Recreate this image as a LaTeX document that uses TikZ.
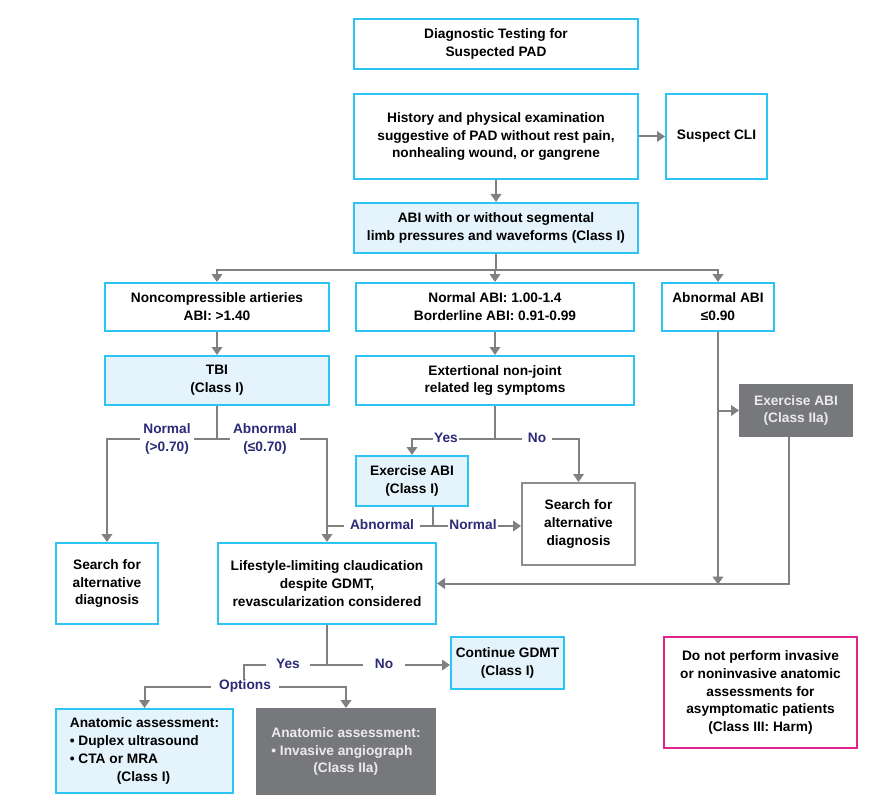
\documentclass[tikz,border=0pt]{standalone}
\usepackage{fontspec}
\setmainfont{Liberation Sans}
\usetikzlibrary{arrows.meta}
\definecolor{cyanb}{HTML}{2BC4F3}
\definecolor{lblue}{HTML}{E4F3FC}
\definecolor{dgray}{HTML}{77787B}
\definecolor{lgray}{HTML}{808080}
\definecolor{navy}{HTML}{2B2A77}
\definecolor{mag}{HTML}{E0248C}
\begin{document}
\begin{tikzpicture}[x=1pt,y=-1pt,
  txt/.style={font=\fontsize{13.7}{17.8}\selectfont\bfseries},
  box/.style={txt, draw=cyanb, line width=2pt, fill=white, align=center, inner sep=0pt, text=black},
  bluebox/.style={box, fill=lblue},
  graybox/.style={box, draw=dgray, fill=dgray, text=white!92!black},
  plainbox/.style={box, draw=lgray!90!white},
  harmbox/.style={box, draw=mag},
  sz/.style 2 args={minimum width=#1, minimum height=#2},
  conn/.style={draw=lgray, line width=2pt},
  arr/.style={conn, -{Triangle[width=10.5pt,length=8pt]}},
  lab/.style={txt, fill=white, text=navy, align=center, inner xsep=3pt, inner ysep=1pt}
]
\useasboundingbox (0,0) rectangle (872,802);

% boxes
\node[box, sz={284}{50}] (title) at (496,44) {Diagnostic Testing for\\Suspected PAD};
\node[box, sz={284}{85}] (hist) at (496,136.5) {History and physical examination\\suggestive of PAD without rest pain,\\nonhealing wound, or gangrene};
\node[box, sz={101}{85}] (cli) at (716.5,136.5) {Suspect CLI};
\node[bluebox, sz={284}{50}] (abi) at (496,228) {ABI with or without segmental\\limb pressures and waveforms (Class I)};
\node[box, sz={224}{48}] (noncomp) at (217,307) {Noncompressible artieries\\ABI: >1.40};
\node[box, sz={278}{48}] (normal) at (495,307) {Normal ABI: 1.00-1.4\\Borderline ABI: 0.91-0.99};
\node[box, sz={112}{48}] (abnabi) at (718,307) {Abnormal ABI\\≤0.90};
\node[bluebox, sz={224}{49}] (tbi) at (217,380.5) {TBI\\(Class I)};
\node[box, sz={278}{49}] (ext) at (495,380.5) {Extertional non-joint\\related leg symptoms};
\node[graybox, sz={112}{51}] (exIIa) at (796,410.5) {Exercise ABI\\(Class IIa)};
\node[bluebox, sz={112}{50}] (exI) at (412,481) {Exercise ABI\\(Class I)};
\node[plainbox, sz={113}{82}] (search2) at (578.5,524) {Search for\\alternative\\diagnosis};
\node[box, sz={102}{81}] (search1) at (107,583.5) {Search for\\alternative\\diagnosis};
\node[box, sz={218}{81}] (life) at (327,583.5) {Lifestyle-limiting claudication\\despite GDMT,\\revascularization considered};
\node[bluebox, sz={113}{52}] (cont) at (507.5,663) {Continue GDMT\\(Class I)};
\node[harmbox, sz={193}{111}] (donot) at (760.5,692.5) {Do not perform invasive\\or noninvasive anatomic\\assessments for\\asymptomatic patients\\(Class III: Harm)};
\node[bluebox, sz={177}{84}, align=left] (anat1) at (144.5,751) {Anatomic assessment:\\• Duplex ultrasound\\• CTA or MRA\\\hspace*{47pt}(Class I)};
\node[graybox, sz={178}{85}, align=left] (anat2) at (346,751.5) {Anatomic assessment:\\• Invasive angiograph\\\hspace*{42pt}(Class IIa)};

% connectors
\draw[arr] (hist.east) -- (cli.west);
\draw[arr] (hist.south) -- (abi.north);
\path (abi.south) ++(0,16) coordinate (b1);
\draw[conn] (abi.south) -- (b1);
\draw[arr] (b1) -| (noncomp.north);
\draw[arr] (b1) -| (abnabi.north);
\draw[arr] (b1 -| normal.north) -- (normal.north);
\draw[arr] (noncomp.south) -- (tbi.north);
\draw[arr] (normal.south) -- (ext.north);

\path (tbi.south) ++(0,33) coordinate (b2);
\draw[conn] (tbi.south) -- (b2);
\draw[arr] (b2) -| (search1.north);
\draw[arr] (b2) -| (life.north);

\path (ext.south) ++(0,33) coordinate (b3);
\draw[conn] (ext.south) -- (b3);
\draw[arr] (b3) -| (exI.north);
\draw[arr] (b3) -| (search2.north);

\path ([xshift=21pt]exI.south) ++(0,19) coordinate (b4);
\draw[conn] ([xshift=21pt]exI.south) -- (b4);
\draw[arr] (b4) -- (b4 -| search2.west);
\draw[conn] (b4) -- (b4 -| life.north);

\draw[arr] (abnabi.south) -- ([yshift=-1pt]abnabi.south |- life.east);
\draw[arr] (abnabi.south |- exIIa.west) -- (exIIa.west);
\draw[arr] ([xshift=-7pt]exIIa.south) |- (life.east);

\path (life.south) ++(0,40) coordinate (b5);
\draw[conn] (life.south) -- (b5);
\draw[arr] (b5) -- (b5 -| cont.west);
\draw[conn] (b5) -- ++(-83,0) coordinate (b6) -- ++(0,22) coordinate (b7);
\draw[arr] (b7) -| (anat1.north);
\draw[arr] (b7) -| (anat2.north);

% labels
\node[lab] (lnorm) at (167,439) {Normal\\(>0.70)};
\node[lab] (labn) at (265,439) {Abnormal\\(≤0.70)};
\node[lab, inner xsep=1pt] (lyes1) at (446,438) {Yes};
\node[lab, inner xsep=6pt] (lno1) at (537,438) {No};
\node[lab, inner xsep=6pt] (labn2) at (382,525) {Abnormal};
\node[lab, inner xsep=1pt] (lnorm2) at (473,525) {Normal};
\node[lab, inner xsep=10pt] (lyes2) at (288,664) {Yes};
\node[lab, inner xsep=12pt] (lno2) at (384,664) {No};
\node[lab, inner xsep=8pt] (lopt) at (245,686) {Options};
\end{tikzpicture}
\end{document}
